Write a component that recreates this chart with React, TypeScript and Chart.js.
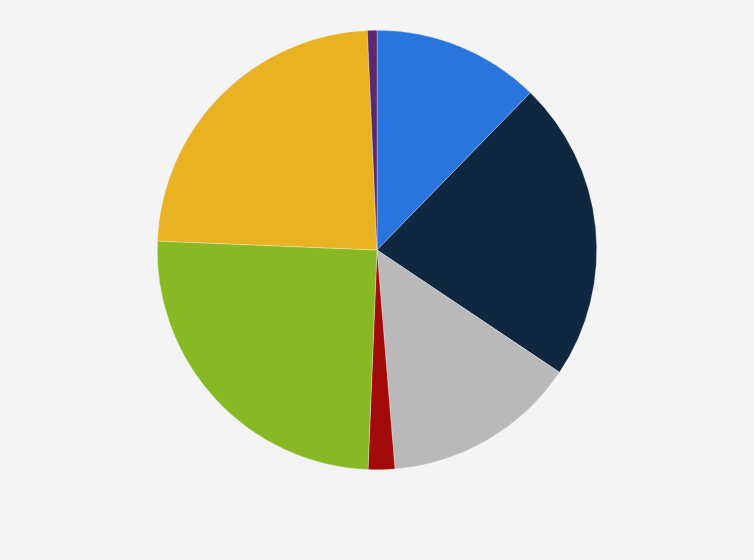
import React, { useEffect, useRef } from "react";
import { Chart, PieController, ArcElement, Tooltip, ChartConfiguration } from "chart.js";

Chart.register(PieController, ArcElement, Tooltip);

const categories = ["A", "B", "C", "D", "E", "F", "G"];
const shares = [12.3, 22.1, 14.3, 1.95, 25.0, 23.65, 0.7];
const colors = ["#2876dd", "#0f2740", "#b9b9b9", "#a30a0a", "#88b924", "#e8b223", "#5b2a6e"];

const PieChart: React.FC = () => {
  const canvasRef = useRef<HTMLCanvasElement | null>(null);

  useEffect(() => {
    document.body.style.margin = "0";
    const ctx = canvasRef.current?.getContext("2d");
    if (!ctx) return;

    const config: ChartConfiguration<"pie", number[], string> = {
      type: "pie",
      data: {
        labels: categories,
        datasets: [
          {
            data: shares,
            backgroundColor: colors,
            borderColor: "rgba(255,255,255,0.6)",
            borderWidth: 0.5,
            hoverOffset: 0,
          },
        ],
      },
      options: {
        animation: false,
        responsive: false,
        maintainAspectRatio: false,
        layout: { padding: { top: 30, bottom: 90, left: 157, right: 157 } },
        plugins: {
          legend: { display: false },
          tooltip: { enabled: true },
        },
      },
    };

    const chart = new Chart(ctx, config);
    return () => {
      chart.destroy();
    };
  }, []);

  return (
    <div style={{ width: 754, height: 560, background: "#f4f4f4" }}>
      <canvas ref={canvasRef} width={754} height={560} style={{ display: "block" }} />
    </div>
  );
};

export default function App() {
  return <PieChart />;
}
